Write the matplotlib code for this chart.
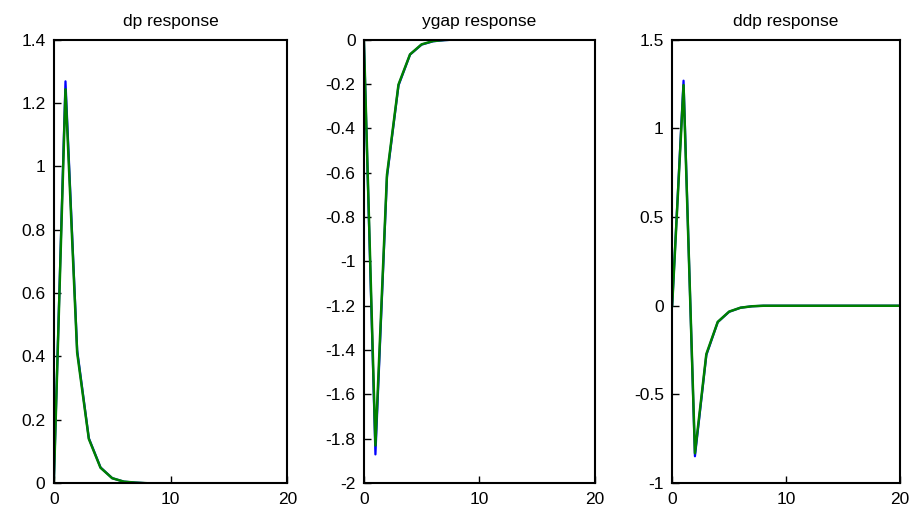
import matplotlib
matplotlib.use("Agg")
import matplotlib.pyplot as plt
import numpy as np

plt.rcParams['font.family'] = ['Liberation Sans', 'DejaVu Sans']

t = list(range(21))

dp_blue = [0, 1.268, 0.420, 0.142, 0.050, 0.016, 0.005, 0.002] + [0] * 13
dp_green = [0, 1.243, 0.412, 0.140, 0.049, 0.016, 0.005, 0.002] + [0] * 13

ygap_blue = [0, -1.87, -0.62, -0.207, -0.068, -0.023, -0.008, -0.003] + [0] * 13
ygap_green = [0, -1.83, -0.61, -0.203, -0.067, -0.022, -0.007, -0.002] + [0] * 13

ddp_blue = [0, 1.268, -0.848, -0.278, -0.092, -0.034, -0.011, -0.003] + [0] * 13
ddp_green = [0, 1.243, -0.831, -0.272, -0.091, -0.033, -0.011, -0.003] + [0] * 13

titles = ["dp response", "ygap response", "ddp response"]
ylims = [(0, 1.4), (-2, 0), (-1, 1.5)]
yticks = [
    [0, 0.2, 0.4, 0.6, 0.8, 1, 1.2, 1.4],
    [-2, -1.8, -1.6, -1.4, -1.2, -1, -0.8, -0.6, -0.4, -0.2, 0],
    [-1, -0.5, 0, 0.5, 1, 1.5],
]
xticks = [0, 10, 20]

series = [(dp_blue, dp_green), (ygap_blue, ygap_green), (ddp_blue, ddp_green)]

fig = plt.figure(figsize=(9.12, 5.13), dpi=100)
lefts = [0.059, 0.399, 0.737]
widths = [0.256, 0.253, 0.250]
bottom = 0.058
height = 0.865

def fmt(v):
    s = ("%g" % v)
    if s.startswith("0."):
        s = "0" + s[1:]
    if s.startswith("-0."):
        s = "-0" + s[2:]
    return s

for i in range(3):
    ax = fig.add_axes([lefts[i], bottom, widths[i], height])
    b, g = series[i]
    ax.plot(t, b, color=(0, 0, 1), lw=1.6)
    ax.plot(t, g, color=(0, 0.5, 0), lw=1.8)
    ax.set_xlim(0, 20)
    ax.set_ylim(*ylims[i])
    ax.set_xticks(xticks)
    ax.set_yticks(yticks[i])
    ax.set_yticklabels([fmt(v) for v in yticks[i]])
    ax.tick_params(direction='in', length=5, width=1, labelsize=12.5, pad=6)
    for s in ax.spines.values():
        s.set_linewidth(1.5)
    ax.set_title(titles[i], fontsize=12.5, pad=10)

fig.savefig("out.png", dpi=100, facecolor='white')
